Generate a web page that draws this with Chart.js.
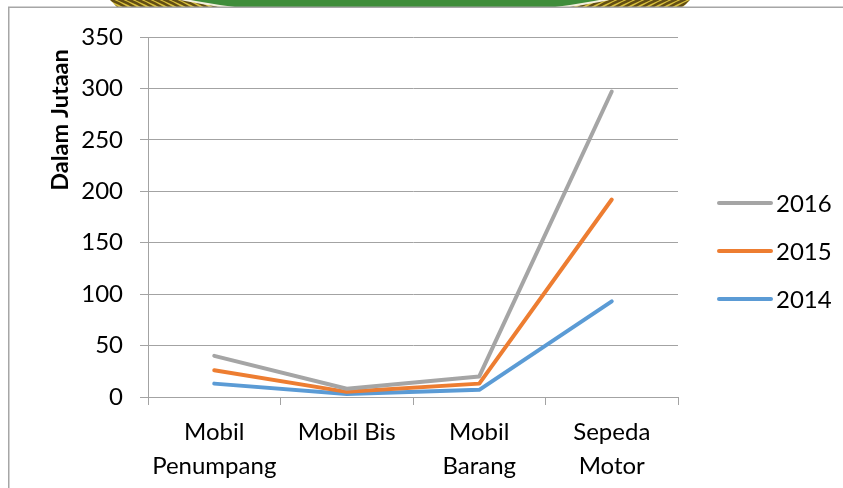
<!DOCTYPE html>
<html>
<head>
<meta charset="utf-8">
<script src="https://cdn.jsdelivr.net/npm/chart.js@4/dist/chart.umd.min.js"></script>
<style>
  html, body { margin: 0; padding: 0; background: #fff; }
  canvas { display: block; }
</style>
</head>
<body>
<canvas id="chart" width="843" height="488"></canvas>
<script>
// Vehicle categories (multi-line labels) and yearly series, in millions
const categories = [['Mobil', 'Penumpang'], 'Mobil Bis', ['Mobil', 'Barang'], ['Sepeda', 'Motor']];
const seriesNames = ['2016', '2015', '2014'];
const values2016 = [40, 8, 20, 297];
const values2015 = [26, 5, 13, 192];
const values2014 = [13, 3, 7, 93];
const yTicks = [0, 50, 100, 150, 200, 250, 300, 350];
const axisTitle = 'Dalam Jutaan';

const seriesValues = [values2016, values2015, values2014];
const seriesColors = ['#A5A5A5', '#ED7D31', '#5B9BD5'];
const FONT = 'Lato, "Liberation Sans", sans-serif';
const GRID = '#a3a3a3';

// Seal emblem peeking above the frame, then the white frame itself
const backdrop = {
  id: 'backdrop',
  beforeDraw(chart) {
    const ctx = chart.ctx;
    ctx.save();
    ctx.fillStyle = '#fff';
    ctx.fillRect(0, 0, chart.width, chart.height);

    ctx.save();
    ctx.beginPath();
    ctx.rect(0, 0, chart.width, 8);
    ctx.clip();
    ctx.filter = 'blur(0.7px)';
    const cx = 400, cy = -280, rOut = 403;
    // golden rope ring
    ctx.beginPath();
    ctx.arc(cx, cy, rOut, 0, Math.PI * 2);
    ctx.fillStyle = '#d8c03e';
    ctx.fill();
    ctx.save();
    ctx.beginPath();
    ctx.arc(cx, cy, rOut, 0, Math.PI * 2);
    ctx.clip();
    ctx.strokeStyle = 'rgba(85,65,15,0.9)';
    ctx.lineWidth = 2.5;
    for (let x = 100; x < 230; x += 9) {
      ctx.beginPath(); ctx.moveTo(x, -1); ctx.quadraticCurveTo(x + 10, 3, x + 20, 9); ctx.stroke();
    }
    for (let x = 560; x < 705; x += 9) {
      ctx.beginPath(); ctx.moveTo(x, -1); ctx.quadraticCurveTo(x - 10, 3, x - 20, 9); ctx.stroke();
    }
    ctx.restore();
    // green field with a pale rim
    ctx.beginPath();
    ctx.ellipse(395, -62, 332, 80, 0, 0, Math.PI * 2);
    ctx.fillStyle = '#3f8d3a';
    ctx.fill();
    ctx.strokeStyle = '#f2efdc';
    ctx.lineWidth = 2;
    ctx.stroke();
    ctx.restore();

    ctx.fillStyle = '#fff';
    ctx.fillRect(9, 7.5, chart.width, chart.height);
    ctx.strokeStyle = '#a6a6a6';
    ctx.lineWidth = 1.5;
    ctx.beginPath();
    ctx.moveTo(8.75, chart.height + 2);
    ctx.lineTo(8.75, 7.25);
    ctx.lineTo(chart.width + 2, 7.25);
    ctx.stroke();
    ctx.restore();
  }
};

// Rotated value-axis title and the series key on the right
const annotations = {
  id: 'annotations',
  afterDraw(chart) {
    const ctx = chart.ctx;
    ctx.save();
    ctx.fillStyle = '#000';
    ctx.font = 'bold 23.5px ' + FONT;
    ctx.textAlign = 'center';
    ctx.textBaseline = 'middle';
    ctx.translate(60, 120);
    ctx.rotate(-Math.PI / 2);
    ctx.fillText(axisTitle, 0, 0);
    ctx.restore();

    ctx.save();
    ctx.font = '24px ' + FONT;
    ctx.textAlign = 'left';
    ctx.textBaseline = 'middle';
    ctx.lineCap = 'round';
    ctx.lineWidth = 4;
    chart.data.datasets.forEach((ds, i) => {
      const y = 203 + i * 48;
      ctx.strokeStyle = ds.borderColor;
      ctx.beginPath();
      ctx.moveTo(719, y);
      ctx.lineTo(771, y);
      ctx.stroke();
      ctx.fillStyle = '#000';
      ctx.fillText(ds.label, 776, y + 1);
    });
    ctx.restore();
  }
};

new Chart(document.getElementById('chart'), {
  type: 'line',
  data: {
    labels: categories,
    datasets: seriesNames.map((name, i) => ({
      label: name,
      data: seriesValues[i],
      borderColor: seriesColors[i],
      backgroundColor: seriesColors[i],
      borderWidth: 4,
      pointRadius: 0,
      tension: 0,
      borderJoinStyle: 'round',
      borderCapStyle: 'round',
      fill: false
    }))
  },
  options: {
    responsive: false,
    animation: false,
    devicePixelRatio: 1,
    layout: { padding: { left: 0, top: 37, right: 165, bottom: 0 } },
    plugins: {
      legend: { display: false },
      tooltip: { enabled: false },
      title: { display: false }
    },
    scales: {
      x: {
        type: 'category',
        offset: true,
        grid: { offset: true, drawOnChartArea: false, drawTicks: true, tickLength: 8, color: GRID, lineWidth: 1 },
        border: { color: GRID, width: 1 },
        ticks: {
          color: '#000',
          font: { family: FONT, size: 24, lineHeight: 1.42 },
          padding: 10,
          maxRotation: 0,
          autoSkip: false
        },
        afterFit(scale) { scale.height = 91; }
      },
      y: {
        min: yTicks[0],
        max: yTicks[yTicks.length - 1],
        afterBuildTicks(scale) { scale.ticks = yTicks.map(v => ({ value: v })); },
        grid: { color: GRID, lineWidth: 1, tickLength: 8, drawTicks: true },
        border: { color: GRID, width: 1 },
        ticks: {
          color: '#000',
          font: { family: FONT, size: 24 },
          padding: 17
        },
        afterFit(scale) { scale.width = 148; }
      }
    }
  },
  plugins: [backdrop, annotations]
});
</script>
</body>
</html>
